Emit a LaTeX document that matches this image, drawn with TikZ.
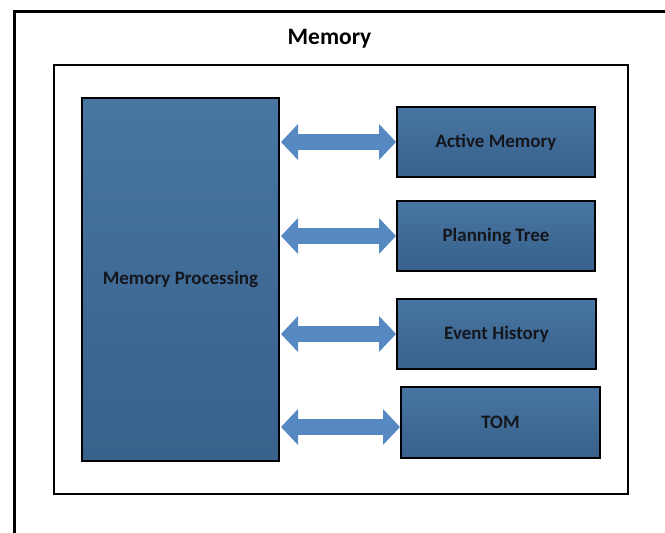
\documentclass[tikz,border=0pt]{standalone}
\usepackage{fontspec}
\setmainfont{Carlito}
\usetikzlibrary{arrows.meta}
\definecolor{boxtop}{RGB}{72,117,162}
\definecolor{boxbot}{RGB}{56,97,140}
\definecolor{arrowblue}{RGB}{86,136,194}
\definecolor{txtdark}{RGB}{20,22,28}
\tikzset{
  blockbox/.style={draw=black, line width=2pt, top color=boxtop, bottom color=boxbot,
    font=\fontsize{19}{22}\selectfont\bfseries, text=txtdark, inner sep=0pt},
  bigarrow/.style={draw=arrowblue, line width=16pt, line cap=butt,
    {Triangle[width=35pt,length=17pt]}-{Triangle[width=35pt,length=17pt]}},
  frame/.style={draw=black, line width=2.6pt},
}
\begin{document}
\begin{tikzpicture}[x=1pt,y=-1pt]
\useasboundingbox (0,0) rectangle (665,533);
\fill[white] (0,0) rectangle (665,533);
% outer frame (runs off the picture on the right and bottom)
\coordinate (obl) at (14,533);
\coordinate (otl) at (14,11);
\coordinate (otr) at (665,11);
\draw[frame, line width=3pt] (obl) -- (otl) -- (otr);
\node[font=\fontsize{23.5}{27}\selectfont\bfseries, anchor=base] (title) at (329.5,44) {Memory};
% inner frame
\node[frame, minimum width=574pt, minimum height=429pt, inner sep=0pt] (inner) at (341,279.5) {};
% boxes
\node[blockbox, minimum width=197pt, minimum height=363pt] (mp) at (180.5,279.5) {Memory Processing};
\node[blockbox, minimum width=198pt, minimum height=70pt] (am) at (496,142) {Active Memory};
\node[blockbox, minimum width=198pt, minimum height=70pt] (pt) at (496,236) {Planning Tree};
\node[blockbox, minimum width=199pt, minimum height=70pt] (eh) at (496.5,334) {Event History};
\node[blockbox, minimum width=199pt, minimum height=71pt] (tom) at (500.5,422.5) {TOM};
% arrows
\draw[bigarrow] ([xshift=1pt]mp.east |- am.west) -- (am.west);
\draw[bigarrow] ([xshift=1pt]mp.east |- pt.west) -- (pt.west);
\draw[bigarrow] ([xshift=1pt]mp.east |- eh.west) -- (eh.west);
\draw[bigarrow] ([xshift=1pt,yshift=-4.5pt]mp.east |- tom.west) -- ([yshift=-4.5pt]tom.west);
\end{tikzpicture}
\end{document}
